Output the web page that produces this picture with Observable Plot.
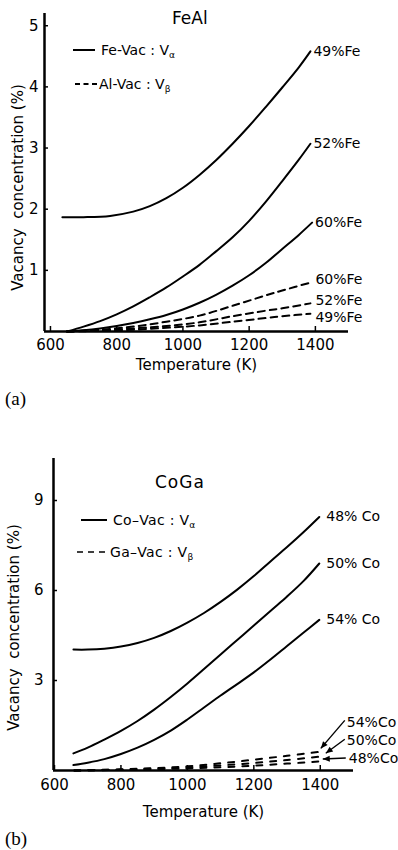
<!DOCTYPE html>
<html><head><meta charset="utf-8">
<script src="https://cdn.jsdelivr.net/npm/d3@7"></script>
<script src="https://cdn.jsdelivr.net/npm/@observablehq/plot@0.6"></script>
<style>
body{margin:0;background:#fff;}
#wrap{position:relative;width:398px;height:850px;overflow:hidden;background:#fff;color:#000;
  font-family:"DejaVu Sans",sans-serif;}
.abs{position:absolute;white-space:nowrap;line-height:1;}
.abs sub{font-size:0.65em;vertical-align:-0.3em;}
.panel{position:absolute;left:0;}
.tag{font-family:"Liberation Serif","DejaVu Serif",serif;font-size:19px;}
</style></head>
<body><div id="wrap">
  <div id="pa" class="panel" style="top:0"></div>
  <div id="pb" class="panel" style="top:440px"></div>

  <div class="abs" style="left:172px;top:10px;font-size:17px;">FeAl</div>
  <svg class="abs" style="left:73px;top:45px" width="24" height="10"><line x1="0" x2="22" y1="5" y2="5" stroke="#000" stroke-width="2"/></svg>
  <div class="abs" style="left:101px;top:43px;font-size:14px">Fe-Vac : V<sub>α</sub></div>
  <svg class="abs" style="left:75px;top:79px" width="24" height="10"><line x1="0" x2="22" y1="5" y2="5" stroke="#000" stroke-width="2" stroke-dasharray="5,3.5"/></svg>
  <div class="abs" style="left:99px;top:77px;font-size:14px">Al-Vac : V<sub>β</sub></div>
  <div class="abs tag" style="left:5px;top:389px">(a)</div>

  <div class="abs" style="left:155px;top:474px;font-size:17px;letter-spacing:1px">CoGa</div>
  <svg class="abs" style="left:81px;top:515px" width="28" height="10"><line x1="0" x2="26" y1="5" y2="5" stroke="#000" stroke-width="2"/></svg>
  <div class="abs" style="left:113px;top:513px;font-size:14px;letter-spacing:0.3px">Co–Vac : V<sub>α</sub></div>
  <svg class="abs" style="left:77px;top:547px" width="32" height="10"><line x1="0" x2="31" y1="5" y2="5" stroke="#000" stroke-width="1.6" stroke-dasharray="6,5"/></svg>
  <div class="abs" style="left:110px;top:545px;font-size:14px;letter-spacing:0.3px">Ga–Vac : V<sub>β</sub></div>
  <div class="abs tag" style="left:5px;top:829px">(b)</div>
</div>
<script>
// ---------- shared ----------
const xTicks = [600, 800, 1000, 1200, 1400];
const xLabel = "Temperature (K)";
const yLabel = "Vacancy  concentration (%)";

// ---------- panel (a) FeAl ----------
const yTicksA = [1, 2, 3, 4, 5];
// Fe-Vac (V alpha), solid
const feSolidLabels = ["49%Fe", "52%Fe", "60%Fe"];
const feSolid49T = [636, 700, 780, 850, 900, 950, 1000, 1050, 1100, 1150, 1200, 1250, 1300, 1350, 1385];
const feSolid49V = [1.87, 1.87, 1.89, 1.96, 2.05, 2.18, 2.35, 2.56, 2.80, 3.07, 3.36, 3.67, 3.99, 4.32, 4.58];
const feSolid52T = [650, 700, 750, 800, 850, 900, 950, 1000, 1050, 1100, 1150, 1200, 1250, 1300, 1350, 1385];
const feSolid52V = [0.0, 0.08, 0.17, 0.28, 0.41, 0.56, 0.72, 0.90, 1.09, 1.31, 1.54, 1.81, 2.12, 2.46, 2.81, 3.07];
const feSolid60T = [650, 700, 750, 800, 850, 900, 950, 1000, 1050, 1100, 1150, 1200, 1250, 1300, 1350, 1390];
const feSolid60V = [0.0, 0.02, 0.05, 0.09, 0.14, 0.20, 0.27, 0.36, 0.47, 0.60, 0.75, 0.92, 1.12, 1.35, 1.58, 1.78];
// Al-Vac (V beta), dashed
const feDashLabels = ["60%Fe", "52%Fe", "49%Fe"];
const feDashT = [650, 750, 850, 950, 1050, 1150, 1250, 1300, 1385];
const feDash60V = [0.0, 0.03, 0.08, 0.16, 0.26, 0.42, 0.59, 0.67, 0.80];
const feDash52V = [0.0, 0.02, 0.05, 0.09, 0.15, 0.25, 0.34, 0.38, 0.46];
const feDash49V = [0.0, 0.01, 0.03, 0.06, 0.10, 0.16, 0.22, 0.25, 0.29];

// ---------- panel (b) CoGa ----------
const yTicksB = [3, 6, 9];
const coSolidLabels = ["48% Co", "50% Co", "54% Co"];
const coSolidT = [657, 700, 750, 800, 850, 900, 950, 1000, 1050, 1100, 1150, 1200, 1250, 1300, 1350, 1397];
const coSolid48V = [4.03, 4.03, 4.06, 4.13, 4.25, 4.42, 4.65, 4.93, 5.25, 5.62, 6.03, 6.48, 6.97, 7.45, 7.95, 8.45];
const coSolid50V = [0.57, 0.76, 1.03, 1.32, 1.65, 2.03, 2.45, 2.90, 3.38, 3.87, 4.35, 4.83, 5.32, 5.80, 6.32, 6.90];
const coSolid54V = [0.18, 0.26, 0.38, 0.55, 0.76, 1.02, 1.33, 1.70, 2.10, 2.50, 2.88, 3.27, 3.70, 4.15, 4.60, 5.02];
const coDashLabels = ["54%Co", "50%Co", "48%Co"];
const coDashT = [660, 800, 900, 1000, 1100, 1200, 1300, 1397];
const coDash54V = [0.0, 0.04, 0.08, 0.14, 0.24, 0.36, 0.49, 0.62];
const coDash50V = [0.0, 0.03, 0.06, 0.10, 0.17, 0.25, 0.35, 0.46];
const coDash48V = [0.0, 0.02, 0.04, 0.07, 0.11, 0.16, 0.23, 0.30];

// ---------- build tables ----------
function rows(id, T, V) { return T.map((t, i) => ({id, T: t, v: V[i]})); }
function last(id, T, V) { return {id, T: T[T.length - 1], v: V[V.length - 1]}; }

const aSolid = [
  [feSolidLabels[0], feSolid49T, feSolid49V],
  [feSolidLabels[1], feSolid52T, feSolid52V],
  [feSolidLabels[2], feSolid60T, feSolid60V]
];
const aDash = [
  [feDashLabels[0], feDashT, feDash60V],
  [feDashLabels[1], feDashT, feDash52V],
  [feDashLabels[2], feDashT, feDash49V]
];
const bSolid = [
  [coSolidLabels[0], coSolidT, coSolid48V],
  [coSolidLabels[1], coSolidT, coSolid50V],
  [coSolidLabels[2], coSolidT, coSolid54V]
];
const bDash = [
  [coDashLabels[0], coDashT, coDash54V],
  [coDashLabels[1], coDashT, coDash50V],
  [coDashLabels[2], coDashT, coDash48V]
];

const FONT = '"DejaVu Sans",sans-serif';

// label vertical nudges (px), style only
const nudgeA = {"sol49%Fe": 0, "sol52%Fe": 0, "sol60%Fe": 0, "dash60%Fe": -3, "dash52%Fe": -3, "dash49%Fe": 4};

function axesMarks(xDomain, yTicks, xPad, yPad) {
  return [
    Plot.axisX({ticks: xTicks, tickSize: -5, tickPadding: xPad, tickFormat: "d", label: null, fontSize: 15, strokeWidth: 1.5}),
    Plot.axisY({ticks: yTicks, tickSize: -4, tickPadding: yPad, tickFormat: "d", label: null, fontSize: 15, strokeWidth: 1.5}),
    Plot.ruleY([0], {strokeWidth: 2.5}),
    Plot.ruleX([xDomain[0]], {strokeWidth: 2.5})
  ];
}

// ---------- plot (a) ----------
const xDomA = [582, 1500];
const plotA = Plot.plot({
  width: 398, height: 385,
  marginLeft: 44, marginRight: 50, marginTop: 13, marginBottom: 54,
  x: {domain: xDomA}, y: {domain: [0, 5.2]},
  style: {fontFamily: FONT, fontSize: "15px", background: "transparent", color: "#000", overflow: "visible"},
  marks: [
    ...axesMarks(xDomA, yTicksA, 13, 10),
    Plot.line(aSolid.flatMap(s => rows(...s)), {x: "T", y: "v", z: "id", curve: "catmull-rom", stroke: "#000", strokeWidth: 2}),
    Plot.line(aDash.flatMap(s => rows(...s)), {x: "T", y: "v", z: "id", curve: "catmull-rom", stroke: "#000", strokeWidth: 2, strokeDasharray: "7,5"}),
    ...aSolid.map(s => Plot.text([last(...s)], {x: "T", y: "v", text: "id", textAnchor: "start", dx: 3, dy: nudgeA["sol" + s[0]], fontSize: 14})),
    ...aDash.map(s => Plot.text([last(...s)], {x: "T", y: "v", text: "id", textAnchor: "start", dx: 5, dy: nudgeA["dash" + s[0]], fontSize: 14})),
    Plot.text([xLabel], {frameAnchor: "bottom", textAnchor: "middle", lineAnchor: "middle", dy: 34, fontSize: 15, text: d => d}),
    Plot.text([yLabel], {frameAnchor: "left", textAnchor: "middle", lineAnchor: "middle", rotate: -90, dx: -26, dy: 15, fontSize: 15, text: d => d})
  ]
});
document.getElementById("pa").append(plotA);

// ---------- plot (b) ----------
const xDomB = [597, 1500];
const plotB = Plot.plot({
  width: 398, height: 385,
  marginLeft: 53, marginRight: 45, marginTop: 18, marginBottom: 55,
  x: {domain: xDomB}, y: {domain: [0, 10.4]},
  style: {fontFamily: FONT, fontSize: "15px", background: "transparent", color: "#000", overflow: "visible"},
  marks: [
    ...axesMarks(xDomB, yTicksB, 14, 14),
    Plot.line(bSolid.flatMap(s => rows(...s)), {x: "T", y: "v", z: "id", curve: "catmull-rom", stroke: "#000", strokeWidth: 2}),
    Plot.line(bDash.flatMap(s => rows(...s)), {x: "T", y: "v", z: "id", curve: "catmull-rom", stroke: "#000", strokeWidth: 2, strokeDasharray: "6,8"}),
    ...bSolid.map(s => Plot.text([last(...s)], {x: "T", y: "v", text: "id", textAnchor: "start", dx: 7, fontSize: 14})),
    Plot.text([xLabel], {frameAnchor: "bottom", textAnchor: "middle", lineAnchor: "middle", dy: 42, fontSize: 15, text: d => d}),
    Plot.text([yLabel], {frameAnchor: "left", textAnchor: "middle", lineAnchor: "middle", rotate: -90, dx: -39, dy: 13, fontSize: 15, text: d => d})
  ]
});
document.getElementById("pb").append(plotB);

// arrow-pointer labels for the dashed CoGa curves (offsets are style, px)
const arrowStyle = {
  "54%Co": {label: [28, -29], tail: [26, -31], head: [2, -3]},
  "50%Co": {label: [28, -16], tail: [26, -17], head: [7, -3]},
  "48%Co": {label: [30, -3], tail: [27, -3], head: [4, -2]}
};
const sx = plotB.scale("x"), sy = plotB.scale("y");
const svgB = d3.select(plotB.tagName.toLowerCase() === "svg" ? plotB : plotB.querySelector("svg"));
const g = svgB.append("g").attr("text-anchor", "start");
bDash.forEach(([id, T, V]) => {
  const e = last(id, T, V);
  const px = sx.apply(e.T), py = sy.apply(e.v);
  const st = arrowStyle[id];
  const x1 = px + st.tail[0], y1 = py + st.tail[1], x2 = px + st.head[0], y2 = py + st.head[1];
  g.append("line").attr("x1", x1).attr("y1", y1).attr("x2", x2).attr("y2", y2)
    .attr("stroke", "#000").attr("stroke-width", 1.4);
  const ang = Math.atan2(y2 - y1, x2 - x1), L = 7, W = 3;
  const bx = x2 - L * Math.cos(ang), by = y2 - L * Math.sin(ang);
  g.append("path").attr("d", `M${x2},${y2}L${bx - W * Math.sin(ang)},${by + W * Math.cos(ang)}L${bx + W * Math.sin(ang)},${by - W * Math.cos(ang)}Z`)
    .attr("fill", "#000");
  g.append("text").attr("x", px + st.label[0]).attr("y", py + st.label[1]).attr("dy", "0.35em")
    .attr("text-anchor", "start").attr("font-size", 14).attr("font-family", FONT).text(id);
});
</script>
</body></html>
